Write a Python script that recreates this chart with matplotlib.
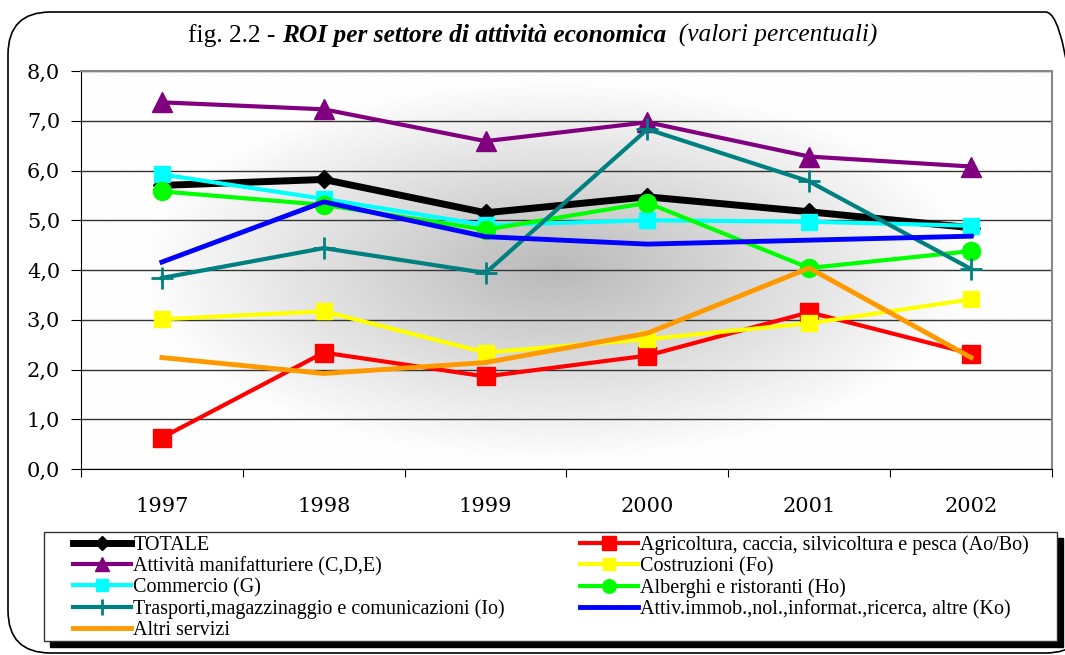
import numpy as np
import matplotlib
matplotlib.use("Agg")
import matplotlib.pyplot as plt
from matplotlib.patches import FancyBboxPatch, Rectangle

years = ["1997", "1998", "1999", "2000", "2001", "2002"]

totale = [5.70, 5.82, 5.15, 5.47, 5.17, 4.85]
agricoltura = [0.63, 2.34, 1.86, 2.28, 3.15, 2.32]
manifatturiere = [7.37, 7.23, 6.59, 6.97, 6.28, 6.08]
costruzioni = [3.01, 3.17, 2.34, 2.61, 2.93, 3.41]
commercio = [5.92, 5.43, 4.90, 5.00, 4.97, 4.89]
alberghi = [5.58, 5.31, 4.81, 5.35, 4.04, 4.38]
trasporti = [3.84, 4.44, 3.94, 6.83, 5.78, 4.02]
attiv_immob = [4.16, 5.37, 4.67, 4.52, 4.60, 4.68]
altri_servizi = [2.24, 1.92, 2.14, 2.73, 4.04, 2.24]

labels = [
    "TOTALE",
    "Agricoltura, caccia, silvicoltura e pesca (Ao/Bo)",
    "Attività manifatturiere (C,D,E)",
    "Costruzioni (Fo)",
    "Commercio (G)",
    "Alberghi e ristoranti (Ho)",
    "Trasporti,magazzinaggio e comunicazioni (Io)",
    "Attiv.immob.,nol.,informat.,ricerca, altre (Ko)",
    "Altri servizi",
]
yticks = [0, 1, 2, 3, 4, 5, 6, 7, 8]

W, H = 1065, 655
fig = plt.figure(figsize=(W / 100, H / 100), dpi=100)

# outer rounded frame
frame = FancyBboxPatch((8 / W, 2 / H), 1080 / W, 641 / H,
                       boxstyle="round,pad=0,rounding_size=0.04",
                       transform=fig.transFigure, fill=False,
                       edgecolor="black", linewidth=1.2, zorder=0,
                       mutation_aspect=W / H)
fig.patches.append(frame)

ax = fig.add_axes([81 / W, (H - 469) / H, (1052 - 81) / W, (469 - 71) / H])

# radial gray background
gx, gy = np.meshgrid(np.linspace(0, 1, 400), np.linspace(0, 1, 300))
r = np.sqrt(((gx - 0.49) / 0.43) ** 2 + ((gy - 0.50) / 0.48) ** 2)
shade = np.clip(1 - r, 0, 1) ** 1.0
img = 0.995 - 0.27 * shade
ax.imshow(img, cmap="gray", vmin=0, vmax=1, extent=[0, 1, 0, 1],
          transform=ax.transAxes, aspect="auto", zorder=0, origin="lower")

x = np.arange(len(years))
series = [
    (totale, "black", "D", 5.0, 9),
    (agricoltura, "#FF0000", "s", 3.0, 13),
    (manifatturiere, "#800080", "^", 3.0, 14),
    (costruzioni, "#FFFF00", "s", 3.0, 11),
    (commercio, "#00FFFF", "s", 3.0, 12),
    (alberghi, "#00FF00", "o", 3.0, 13),
    (trasporti, "#008080", "+", 3.0, 16),
    (attiv_immob, "#0000FF", None, 3.5, 0),
    (altri_servizi, "#FF9900", None, 3.5, 0),
]
handles = []
for i, (vals, col, mk, lw, ms) in enumerate(series):
    h, = ax.plot(x, vals, color=col, marker=mk, lw=lw, ms=ms,
                 mew=2 if mk == "+" else 1, mec=col, mfc=col,
                 label=labels[i], zorder=3 + i)
    handles.append(h)

ax.set_xlim(-0.5, 5.5)
ax.set_ylim(0, 8)
ax.set_yticks(yticks)
ax.set_yticklabels([f"{v},0" for v in yticks], fontsize=15, family="DejaVu Serif")
ax.set_xticks(np.arange(-0.5, 6, 1))
ax.set_xticklabels([])
ax.set_xticks(x, minor=True)
ax.set_xticklabels(years, minor=True, fontsize=15, family="DejaVu Serif")
ax.tick_params(axis="x", which="minor", length=0, pad=20)
ax.tick_params(axis="x", which="major", length=6, direction="out")
ax.tick_params(axis="y", length=7, direction="out", pad=8)
ax.grid(axis="y", color="#333333", lw=1)
ax.set_axisbelow(True)
ax.spines["top"].set_color("#888888")
ax.spines["right"].set_color("#888888")
ax.spines["top"].set_linewidth(1.5)
ax.spines["right"].set_linewidth(1.5)

# title in pieces
tf = {"fontsize": 18.3, "family": "Liberation Serif"}
t1 = fig.text(188 / W, 1 - 36 / H, "fig. 2.2 - ", va="center", **tf)
t2 = ax.annotate("ROI per settore di attività economica", xy=(1, 0),
                 xycoords=t1, va="bottom", weight="bold", style="italic",
                 annotation_clip=False, **tf)
ax.annotate("  (valori percentuali)", xy=(1, 0), xycoords=t2, va="bottom",
            style="italic", annotation_clip=False, **tf)

# legend box with shadow
fig.patches.append(Rectangle((50 / W, (H - 647) / H), 1013 / W, 109 / H,
                             transform=fig.transFigure, color="black", zorder=1))
fig.patches.append(Rectangle((44 / W, (H - 641) / H), 1013 / W, 109 / H,
                             transform=fig.transFigure, facecolor="white",
                             edgecolor="#333333", lw=1, zorder=1.5))
order = [0, 2, 4, 6, 8, 1, 3, 5, 7]
leg = fig.legend([handles[i] for i in order], [labels[i] for i in order],
                 ncol=2, loc="upper left", bbox_to_anchor=(73 / W, (H - 535) / H),
                 prop={"family": "Liberation Serif", "size": 14.5},
                 frameon=False, handlelength=2.9, handletextpad=0.1,
                 labelspacing=0.1, borderpad=0, borderaxespad=0,
                 markerscale=0.75, columnspacing=3.7)
leg.set_zorder(2)

fig.savefig("out.png", dpi=100)
